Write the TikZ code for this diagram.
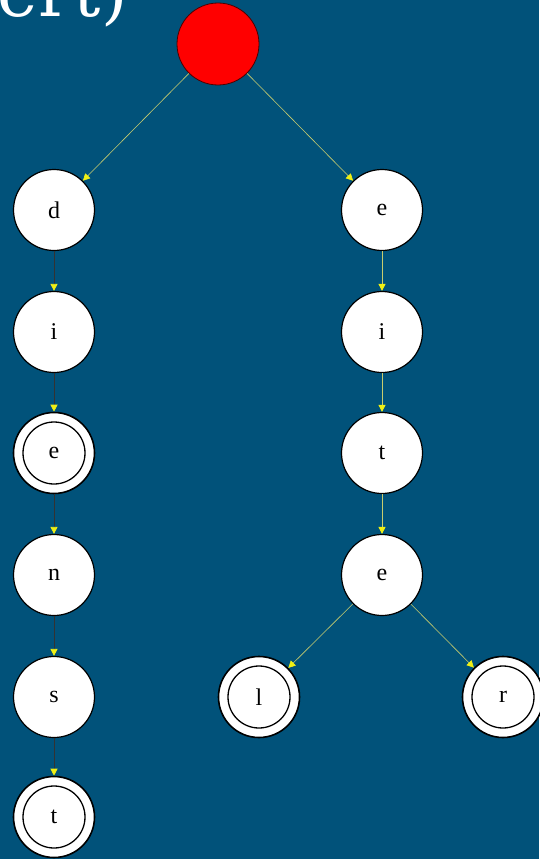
\documentclass[tikz,border=0pt]{standalone}
\usepackage{fontspec}
\setmainfont{Liberation Serif}
\newfontfamily\titlefont{DejaVu Serif}
\usetikzlibrary{arrows.meta}
\definecolor{bgblue}{RGB}{1,82,122}
\definecolor{edgeyel}{RGB}{200,205,110}
\definecolor{tipyel}{RGB}{240,240,20}
\tikzset{
  st/.style={circle,draw=black,fill=white,minimum size=81pt,inner sep=0pt,line width=1.2pt,font=\fontsize{24}{28}\selectfont},
  rootst/.style={circle,draw=black!70!red,fill=red,minimum size=82pt,inner sep=0pt,line width=0.8pt},
  tipA/.style={-{Triangle[length=7pt,width=7pt,fill=tipyel,color=tipyel]}},
  ye/.style={draw=edgeyel,line width=0.6pt,tipA},
  bk/.style={draw=black!80,line width=0.8pt,tipA}
}
\newcommand{\innerring}[1]{\draw[line width=1.3pt] (#1.center) circle (31pt);}
\begin{document}
\begin{tikzpicture}[x=1pt,y=-1pt]
\fill[bgblue] (0,0) rectangle (539,859);
\useasboundingbox (0,0) rectangle (539,859);
\begin{scope}
\clip (0,0) rectangle (539,859);
\node[anchor=base east,inner sep=0pt,text=white,font=\titlefont\fontsize{68}{70}\selectfont] (title) at (128,17) {e\kern1pt r\kern3pt t)};
\end{scope}
\node[rootst] (root) at (218,44) {};
\node[st] (d) at (54,210) {d};
\node[st] (i1) at (54,332) {i};
\node[st,line width=1.6pt] (e1) at (54,453) {e};
\node[st] (n) at (54,575) {n};
\node[st] (s) at (54,697) {s};
\node[st,line width=1.6pt] (t1) at (54,817) {t};
\node[st] (e2) at (382,210) {e};
\node[st] (i2) at (382,332) {i};
\node[st] (t2) at (382,453) {t};
\node[st] (e3) at (382,575) {e};
\node[st,line width=1.6pt] (l) at (259,697) {l};
\node[st,line width=1.6pt] (r) at (503,697) {r};
\innerring{e1}
\innerring{t1}
\innerring{l}
\innerring{r}
\draw[ye] (root) -- (d);
\draw[ye] (root) -- (e2);
\draw[bk] (d) -- (i1);
\draw[bk] (i1) -- (e1);
\draw[bk] (e1) -- (n);
\draw[bk] (n) -- (s);
\draw[bk] (s) -- (t1);
\draw[ye] (e2) -- (i2);
\draw[ye] (i2) -- (t2);
\draw[ye] (t2) -- (e3);
\draw[ye] (e3) -- (l);
\draw[ye] (e3) -- (r);
\end{tikzpicture}
\end{document}
